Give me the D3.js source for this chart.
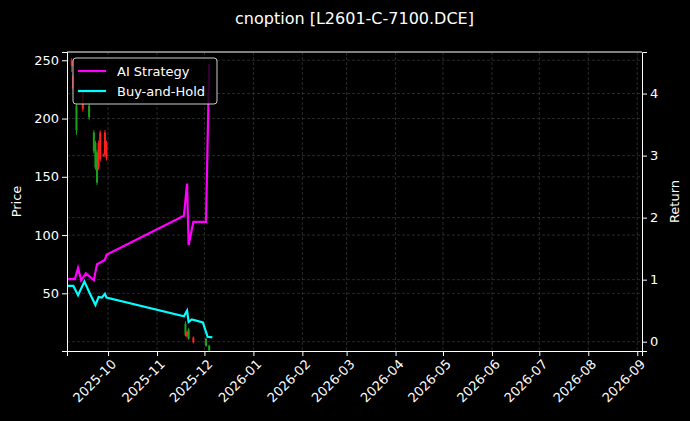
<!DOCTYPE html>
<html>
<head>
<meta charset="utf-8">
<script src="https://d3js.org/d3.v7.min.js"></script>
<style>
  body { margin: 0; background: #000; font-family: "DejaVu Sans", sans-serif; }
</style>
</head>
<body>
<script>
// strategy curves (return)
var aiDates = ["2025-09-05","2025-09-10","2025-09-12","2025-09-14","2025-09-17","2025-09-22","2025-09-24","2025-09-27","2025-09-29","2025-09-30","2025-11-18","2025-11-20","2025-11-21","2025-11-24","2025-12-02","2025-12-04"];
var aiReturn = [1.01,1.01,1.19,0.99,1.10,0.99,1.25,1.29,1.32,1.40,2.03,2.55,1.56,1.93,1.93,4.48];
var bhDates = ["2025-09-05","2025-09-09","2025-09-12","2025-09-16","2025-09-20","2025-09-23","2025-09-25","2025-09-27","2025-09-29","2025-09-30","2025-11-18","2025-11-20","2025-11-21","2025-11-23","2025-11-30","2025-12-03","2025-12-06"];
var bhReturn = [0.90,0.90,0.75,0.97,0.75,0.59,0.72,0.71,0.77,0.71,0.41,0.50,0.32,0.36,0.31,0.08,0.07];
// candles (price)
var cDates = ["2025-09-08","2025-09-09","2025-09-11","2025-09-15","2025-09-19","2025-09-22","2025-09-23","2025-09-24","2025-09-25","2025-09-26","2025-09-28","2025-09-29","2025-09-30","2025-11-19","2025-11-20","2025-11-21","2025-11-24","2025-12-02","2025-12-04"];
var cOpen  = [245,226,211,208,211,188,179,171,158,165,168,169,166,24,13,19,8,11,5];
var cClose = [250,237,190,222,201,172,158,145,179,188,169,188,179,14,17,11,12,5,1];
var cHigh  = [252,239,213,224,213,190,181,173,181,190,170,190,181,26,18,20,13,12,6];
var cLow   = [240,224,186,206,199,170,156,143,156,163,167,167,164,13,12,10,7,4,0.5];
var leftTicks = [50,100,150,200,250];
var rightTicks = [0,1,2,3,4];

var W = 690, H = 421;
var m = {l: 67, r: 48, t: 52, b: 70};
var svg = d3.select("body").append("svg").attr("width", W).attr("height", H)
  .style("background", "#000");

var parse = d3.timeParse("%Y-%m-%d");
var x = d3.scaleTime().domain([parse("2025-09-05"), parse("2026-09-04")]).range([m.l, W - m.r]);
var yL = d3.scaleLinear().domain([0.5, 257.1]).range([H - m.b, m.t]);
var yR = d3.scaleLinear().domain([-0.15, 4.67]).range([H - m.b, m.t]);

var months = d3.timeMonth.range(parse("2025-10-01"), parse("2026-09-02"));

// grid
var grid = svg.append("g").attr("stroke", "#444").attr("stroke-width", 0.6).attr("stroke-dasharray", "3,2");
months.forEach(function(d){ grid.append("line").attr("x1", x(d)).attr("x2", x(d)).attr("y1", m.t).attr("y2", H - m.b); });
leftTicks.forEach(function(v){ grid.append("line").attr("x1", m.l).attr("x2", W - m.r).attr("y1", yL(v)).attr("y2", yL(v)); });
rightTicks.forEach(function(v){ grid.append("line").attr("x1", m.l).attr("x2", W - m.r).attr("y1", yR(v)).attr("y2", yR(v)); });

// candles
var candles = svg.append("g");
cDates.forEach(function(d, i){
  var col = cClose[i] >= cOpen[i] ? "#ff2020" : "#1ea01e";
  var cx = x(parse(d));
  candles.append("line").attr("x1", cx).attr("x2", cx).attr("y1", yL(cHigh[i])).attr("y2", yL(cLow[i]))
    .attr("stroke", col).attr("stroke-width", 1);
  candles.append("rect").attr("x", cx - 1).attr("width", 2)
    .attr("y", yL(Math.max(cOpen[i], cClose[i])))
    .attr("height", Math.max(1, Math.abs(yL(cOpen[i]) - yL(cClose[i]))))
    .attr("fill", col);
});

// lines
var line = d3.line().x(function(d){ return x(d[0]); }).y(function(d){ return yR(d[1]); });
svg.append("path").datum(aiDates.map(function(d,i){ return [parse(d), aiReturn[i]]; }))
  .attr("d", line).attr("fill", "none").attr("stroke", "#ff00ff").attr("stroke-width", 2.2);
svg.append("path").datum(bhDates.map(function(d,i){ return [parse(d), bhReturn[i]]; }))
  .attr("d", line).attr("fill", "none").attr("stroke", "#00ffff").attr("stroke-width", 2.2);

// axes
function style(g){
  g.selectAll("path, line").attr("stroke", "#fff");
  g.selectAll("text").attr("fill", "#fff").style("font-size", "13px").style("font-family", "DejaVu Sans");
}
var xa = svg.append("g").attr("transform", "translate(0," + (H - m.b) + ")")
  .call(d3.axisBottom(x).tickValues(months).tickFormat(d3.timeFormat("%Y-%m")).tickSizeOuter(0).tickSize(5));
style(xa);
xa.selectAll("text").attr("text-anchor", "end").attr("dx", "-0.3em").attr("dy", "0.6em")
  .attr("transform", "rotate(-45)");
var yla = svg.append("g").attr("transform", "translate(" + m.l + ",0)")
  .call(d3.axisLeft(yL).tickValues(leftTicks).tickSizeOuter(0).tickSize(5));
style(yla);
var yra = svg.append("g").attr("transform", "translate(" + (W - m.r) + ",0)")
  .call(d3.axisRight(yR).tickValues(rightTicks).tickFormat(d3.format("d")).tickSizeOuter(0).tickSize(5));
style(yra);
svg.append("line").attr("x1", m.l).attr("x2", W - m.r).attr("y1", m.t).attr("y2", m.t).attr("stroke", "#fff");

svg.append("text").attr("x", 16).attr("y", (m.t + H - m.b) / 2).attr("transform", "rotate(-90,16," + ((m.t + H - m.b) / 2) + ")")
  .attr("text-anchor", "middle").attr("dy", "0.35em").attr("fill", "#fff").style("font-size", "13px").text("Price");
svg.append("text").attr("x", 674).attr("y", (m.t + H - m.b) / 2).attr("transform", "rotate(-90,674," + ((m.t + H - m.b) / 2) + ")")
  .attr("text-anchor", "middle").attr("dy", "0.35em").attr("fill", "#fff").style("font-size", "13px").text("Return");
svg.append("text").attr("x", (m.l + W - m.r) / 2).attr("y", 24).attr("text-anchor", "middle")
  .attr("fill", "#fff").style("font-size", "16px").text("cnoption [L2601-C-7100.DCE]");

// legend
var lg = svg.append("g").attr("transform", "translate(73,58)");
lg.append("rect").attr("width", 144).attr("height", 46).attr("rx", 3)
  .attr("fill", "#000").attr("fill-opacity", 0.8).attr("stroke", "#ccc");
[["AI Strategy", "#ff00ff"], ["Buy-and-Hold", "#00ffff"]].forEach(function(e, i){
  var yy = 13 + i * 20;
  lg.append("line").attr("x1", 5).attr("x2", 33).attr("y1", yy).attr("y2", yy).attr("stroke", e[1]).attr("stroke-width", 2.2);
  lg.append("text").attr("x", 44).attr("y", yy).attr("dy", "0.35em").attr("fill", "#fff")
    .style("font-size", "13px").text(e[0]);
});
</script>
</body>
</html>
